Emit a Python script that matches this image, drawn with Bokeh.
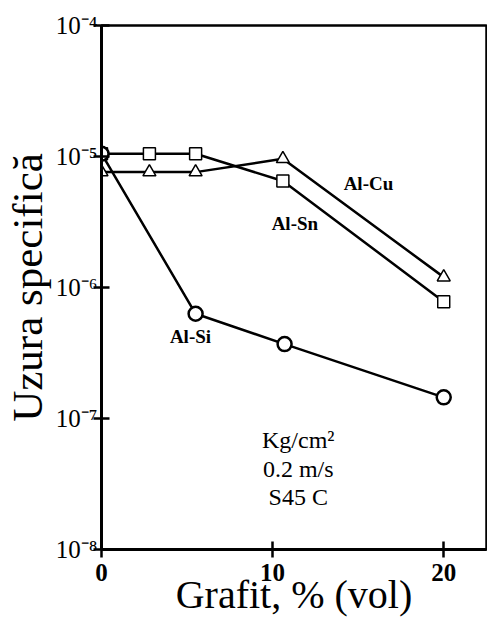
from bokeh.plotting import figure
from bokeh.models import FixedTicker, CustomJSTickFormatter
from bokeh.core.properties import value
from bokeh.embed import file_html
from bokeh.resources import INLINE

# Data
x_cu = [0, 2.8, 5.5, 10.6, 20]
y_cu = [7.6e-6, 7.6e-6, 7.6e-6, 9.6e-6, 1.2e-6]
x_sn = [0, 2.8, 5.5, 10.6, 20]
y_sn = [1.05e-5, 1.05e-5, 1.05e-5, 6.5e-6, 7.8e-7]
x_si = [0, 5.5, 10.7, 20]
y_si = [1.05e-5, 6.3e-7, 3.7e-7, 1.45e-7]

x_ticks = [0, 10, 20]
y_ticks = [1e-8, 1e-7, 1e-6, 1e-5, 1e-4]

series_labels = ["Al-Cu", "Al-Sn", "Al-Si"]
series_label_x = [15.6, 11.3, 5.2]
series_label_y = [6.2e-6, 3.1e-6, 4.2e-7]

cond_text = ["Kg/cm\u00b2", "0.2 m/s", "S45 C"]
cond_x = [11.5, 11.5, 11.5]
cond_y = [6.8e-8, 4.1e-8, 2.5e-8]

FONT = "Liberation Serif"

p = figure(width=487, height=626, x_range=(0, 22.5), y_range=(1e-8, 1e-4),
           y_axis_type="log", output_backend="svg", toolbar_location=None,
           min_border_left=101, min_border_right=1, min_border_top=25,
           min_border_bottom=77)

p.background_fill_color = "white"
p.border_fill_color = "white"
p.grid.visible = False
p.outline_line_color = "black"
p.outline_line_width = 2.5

# axes
p.xaxis.ticker = FixedTicker(ticks=x_ticks)
p.yaxis.ticker = FixedTicker(ticks=y_ticks)
p.yaxis.formatter = CustomJSTickFormatter(code="""
const e = Math.round(Math.log10(tick));
const sup = {'-':'\u207b','0':'\u2070','1':'\u00b9','2':'\u00b2','3':'\u00b3','4':'\u2074','5':'\u2075','6':'\u2076','7':'\u2077','8':'\u2078','9':'\u2079'};
return '10' + String(e).split('').map(c => sup[c]).join('');
""")
for ax in (p.xaxis, p.yaxis):
    ax.axis_line_width = 3
    ax.axis_line_color = "black"
    ax.major_tick_line_width = 2.5
    ax.major_tick_line_color = "black"
    ax.minor_tick_line_color = None
    ax.major_tick_in = 8
    ax.major_tick_out = 8
    ax.major_label_text_font = FONT
    ax.major_label_text_font_size = "25px"
    ax.major_label_text_color = "black"
    ax.axis_label_text_font = FONT
    ax.axis_label_text_font_style = "normal"
    ax.axis_label_text_color = "black"

p.xaxis.major_label_text_font_style = "bold"
p.xaxis.major_label_standoff = 6
p.xaxis.axis_label = "Grafit, % (vol)"
p.xaxis.axis_label_text_font_size = "40px"
p.xaxis.axis_label_standoff = -12

p.yaxis.major_label_standoff = -4
p.yaxis.axis_label = "Uzura specifică"
p.yaxis.axis_label_text_font_size = "43px"
p.yaxis.axis_label_standoff = 2

# series
p.line(x_cu, y_cu, line_color="black", line_width=2.5)
p.scatter(x_cu, y_cu, marker="triangle", size=13, fill_color="white",
          line_color="black", line_width=1.5)
p.line(x_sn, y_sn, line_color="black", line_width=2.5)
p.scatter(x_sn, y_sn, marker="square", size=12, fill_color="white",
          line_color="black", line_width=1.5)
p.line(x_si, y_si, line_color="black", line_width=2.5)
p.scatter(x_si, y_si, marker="circle", size=14, fill_color="white",
          line_color="black", line_width=2.5)

p.text(series_label_x, series_label_y, text=series_labels,
       text_font=value(FONT), text_font_size="19px", text_font_style="bold",
       text_align="center", text_baseline="middle", text_color="black")
p.text(cond_x, cond_y, text=cond_text,
       text_font=value(FONT), text_font_size="24px",
       text_align="center", text_baseline="middle", text_color="black")

open("out.html", "w").write(file_html(p, INLINE))
